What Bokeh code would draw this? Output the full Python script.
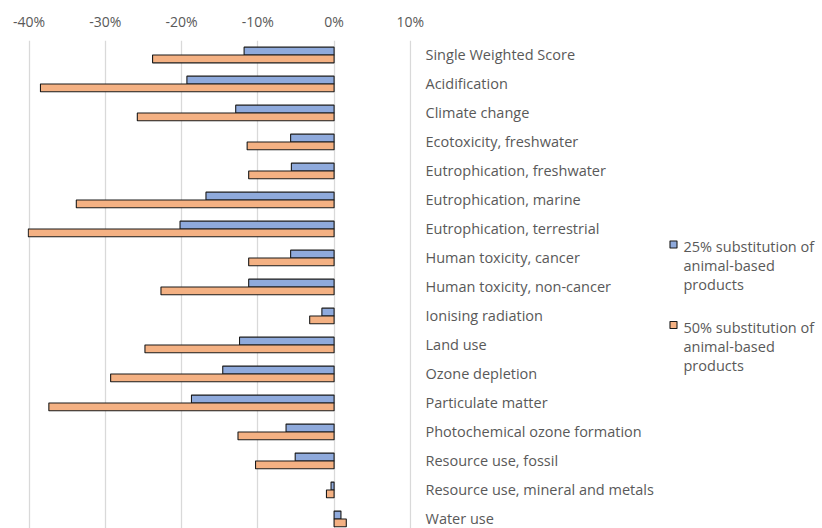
import numpy as np
from bokeh.plotting import figure
from bokeh.layouts import row
from bokeh.models import Range1d, FixedTicker, ColumnDataSource
from bokeh.core.properties import value
from bokeh.embed import file_html
from bokeh.resources import INLINE

categories = [
    "Single Weighted Score",
    "Acidification",
    "Climate change",
    "Ecotoxicity, freshwater",
    "Eutrophication, freshwater",
    "Eutrophication, marine",
    "Eutrophication, terrestrial",
    "Human toxicity, cancer",
    "Human toxicity, non-cancer",
    "Ionising radiation",
    "Land use",
    "Ozone depletion",
    "Particulate matter",
    "Photochemical ozone formation",
    "Resource use, fossil",
    "Resource use, mineral and metals",
    "Water use",
]
# percent change
sub25 = [-11.8, -19.3, -12.9, -5.7, -5.6, -16.8, -20.2, -5.7, -11.2, -1.6,
         -12.4, -14.6, -18.7, -6.3, -5.1, -0.4, 0.9]
sub50 = [-23.8, -38.5, -25.8, -11.4, -11.2, -33.8, -40.1, -11.2, -22.7, -3.2,
         -24.8, -29.3, -37.4, -12.6, -10.3, -1.0, 1.6]
series_lines = [["25% substitution of", "animal-based", "products"],
                ["50% substitution of", "animal-based", "products"]]
x_ticks = [-40, -30, -20, -10, 0, 10]
x_tick_labels = ["-40%", "-30%", "-20%", "-10%", "0%", "10%"]

FONT = "Open Sans"
TXT = "#595959"
BLUE = "#8faadc"
ORANGE = "#f4b183"
EDGE = "#1a1a1a"
colors = [BLUE, ORANGE]

idx = np.arange(len(categories))
bar_h = 0.27
src = ColumnDataSource(dict(
    y25=idx - bar_h / 2, y50=idx + bar_h / 2, v25=sub25, v50=sub50,
    zero=[0] * len(categories)))

H = 528
TOP = 40
p = figure(frame_width=384, height=H,
           x_range=Range1d(-40.2, 10.15), y_range=Range1d(16.33, -0.5),
           x_axis_location="above", y_axis_location="right",
           output_backend="svg", toolbar_location=None,
           min_border_left=27, min_border_top=TOP, min_border_bottom=0,
           min_border_right=0)
p.outline_line_color = None

p.hbar(y="y25", left="zero", right="v25", height=bar_h, source=src,
       fill_color=BLUE, line_color=EDGE, line_width=1.1)
p.hbar(y="y50", left="zero", right="v50", height=bar_h, source=src,
       fill_color=ORANGE, line_color=EDGE, line_width=1.1)

xa = p.xaxis[0]
xa.ticker = FixedTicker(ticks=x_ticks)
xa.major_label_overrides = {t: l for t, l in zip(x_ticks, x_tick_labels)}
xa.axis_line_color = None
xa.major_tick_line_color = None
xa.minor_tick_line_color = None
xa.major_label_standoff = 4
xa.major_label_text_font = FONT
xa.major_label_text_font_size = "14px"
xa.major_label_text_color = TXT

ya = p.yaxis[0]
ya.ticker = FixedTicker(ticks=list(idx))
ya.major_label_overrides = {int(i): c for i, c in zip(idx, categories)}
ya.axis_line_color = None
ya.major_tick_line_color = None
ya.minor_tick_line_color = None
ya.major_label_standoff = 8
ya.major_label_text_font = FONT
ya.major_label_text_font_size = "14.5px"
ya.major_label_text_color = TXT

p.xgrid.grid_line_color = "#d9d9d9"
p.xgrid.grid_line_width = 1.3
p.xgrid.ticker = FixedTicker(ticks=x_ticks)
p.ygrid.grid_line_color = None

# legend panel: coordinates in page pixels (x from panel start, y downward)
LW = 164
leg = figure(width=LW, height=H, x_range=Range1d(0, LW), y_range=Range1d(H, TOP),
             output_backend="svg", toolbar_location=None,
             min_border=0, min_border_top=TOP, outline_line_color=None)
leg.axis.visible = False
leg.grid.visible = False
item_top = [246, 326.5]
line_gap = 19
sq_y, tx, ty, tt = [], [], [], []
for k, lines in enumerate(series_lines):
    sq_y.append(item_top[k] - 2)
    for j, s in enumerate(lines):
        tx.append(27)
        ty.append(item_top[k] + j * line_gap)
        tt.append(s)
leg.scatter(x=[17, 17], y=sq_y, marker="square", size=7,
            fill_color=colors, line_color=EDGE, line_width=1.1)
leg.text(x=tx, y=ty, text=tt, text_font=value(FONT), text_font_size="14.5px",
         text_color=TXT, text_baseline="middle", text_align="left")

layout = row(p, leg)
open("out.html", "w").write(file_html(layout, INLINE))
